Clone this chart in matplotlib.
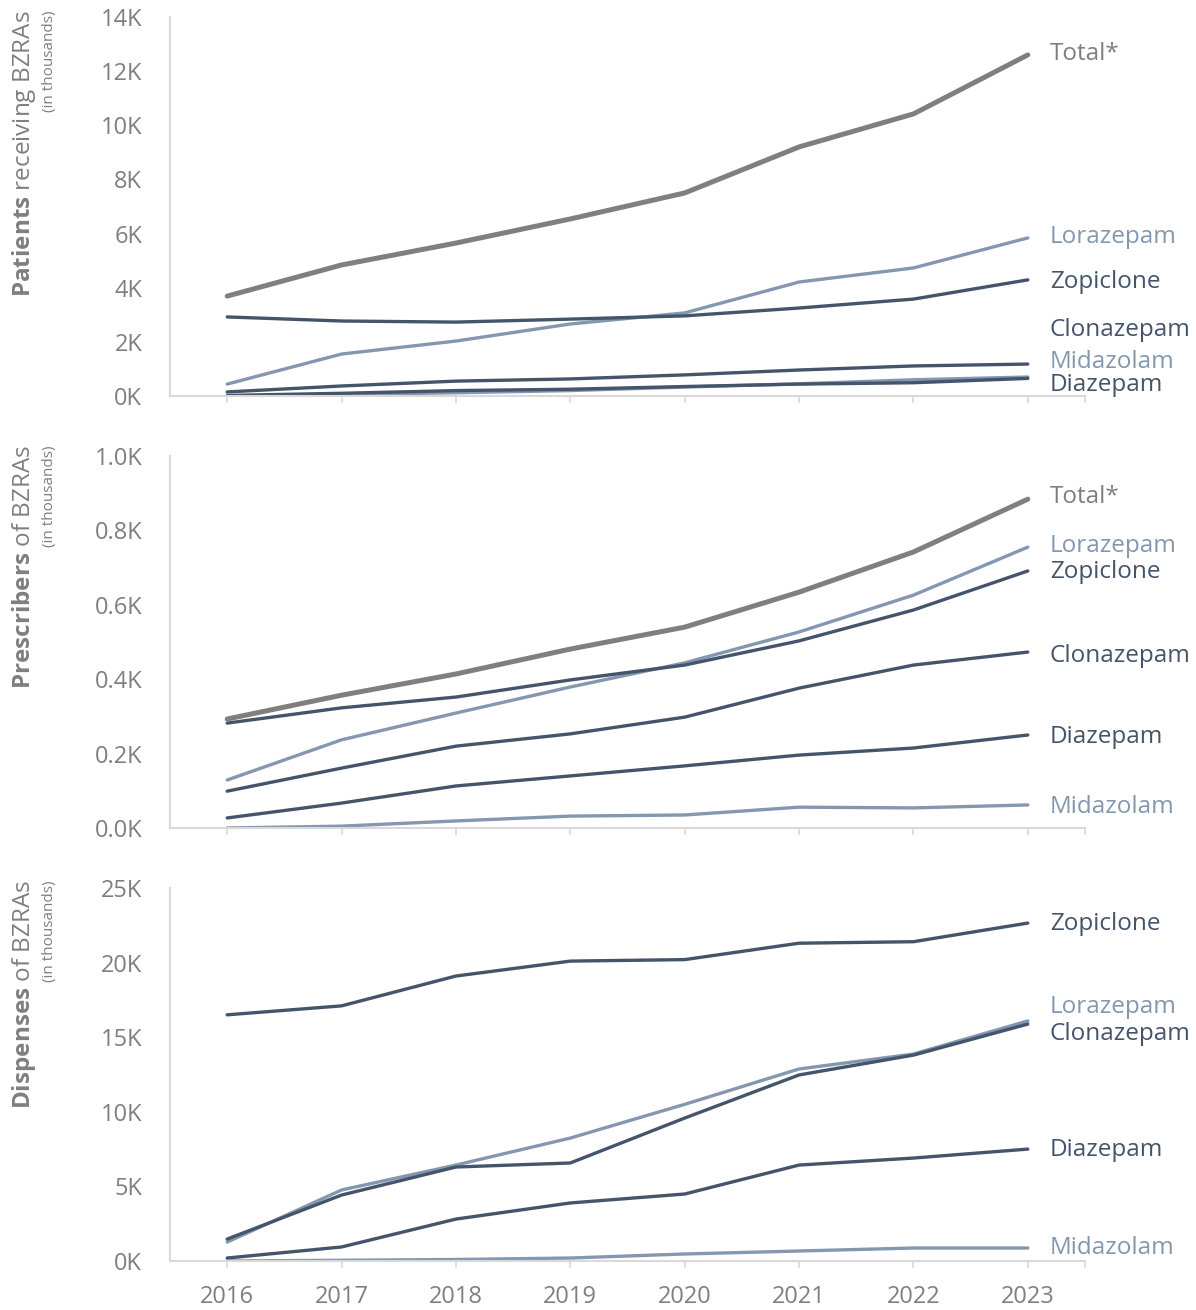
import numpy as np
import matplotlib.pyplot as plt
from matplotlib.ticker import FuncFormatter

plt.rcParams['font.family'] = ['Open Sans', 'DejaVu Sans']
plt.rcParams['mathtext.fontset'] = 'custom'
plt.rcParams['mathtext.bf'] = 'Open Sans:bold'
plt.rcParams['mathtext.rm'] = 'Open Sans'

years = [2016, 2017, 2018, 2019, 2020, 2021, 2022, 2023]

# Patients receiving BZRAs (thousands)
pat_total = [3.69, 4.84, 5.65, 6.54, 7.50, 9.20, 10.42, 12.60]
pat_lorazepam = [0.44, 1.55, 2.03, 2.66, 3.07, 4.21, 4.73, 5.84]
pat_zopiclone = [2.92, 2.77, 2.73, 2.84, 2.96, 3.25, 3.58, 4.29]
pat_clonazepam = [0.15, 0.37, 0.55, 0.63, 0.78, 0.96, 1.11, 1.18]
pat_midazolam = [0.00, 0.05, 0.12, 0.20, 0.33, 0.45, 0.60, 0.70]
pat_diazepam = [0.02, 0.10, 0.20, 0.25, 0.35, 0.44, 0.49, 0.65]

# Prescribers of BZRAs (thousands)
pre_total = [0.293, 0.357, 0.414, 0.481, 0.540, 0.634, 0.742, 0.884]
pre_lorazepam = [0.129, 0.237, 0.309, 0.379, 0.444, 0.527, 0.626, 0.755]
pre_zopiclone = [0.282, 0.323, 0.352, 0.398, 0.438, 0.503, 0.586, 0.691]
pre_clonazepam = [0.099, 0.161, 0.220, 0.253, 0.298, 0.376, 0.438, 0.473]
pre_diazepam = [0.027, 0.067, 0.113, 0.140, 0.167, 0.196, 0.215, 0.250]
pre_midazolam = [0.000, 0.005, 0.019, 0.032, 0.035, 0.056, 0.054, 0.062]

# Dispenses of BZRAs (thousands)
dis_zopiclone = [16.5, 17.1, 19.1, 20.1, 20.2, 21.3, 21.4, 22.65]
dis_lorazepam = [1.27, 4.76, 6.43, 8.24, 10.5, 12.87, 13.87, 16.09]
dis_clonazepam = [1.47, 4.42, 6.30, 6.57, 9.58, 12.47, 13.80, 15.88]
dis_diazepam = [0.20, 0.94, 2.81, 3.89, 4.49, 6.43, 6.90, 7.50]
dis_midazolam = [0.00, 0.05, 0.10, 0.20, 0.47, 0.67, 0.87, 0.87]

DARK = '#44546a'
LIGHT = '#8497b0'
TOTAL = '#7f7f7f'
AXIS = '#d9d9d9'
TEXT = '#7f7f7f'

W, H = 1196, 1310
fig = plt.figure(figsize=(W / 100, H / 100), dpi=100)


def px_axes(top, bottom):
    return fig.add_axes([170 / W, (H - bottom) / H, 915 / W, (bottom - top) / H])


panels = [
    dict(top=17, bottom=396, ymax=14, fmt='{:.0f}K', step=2,
         bold='Patients', rest=' receiving BZRAs', label_top=10,
         series=[('Clonazepam', pat_clonazepam, DARK, 34),
                 ('Midazolam', pat_midazolam, LIGHT, 15),
                 ('Diazepam', pat_diazepam, DARK, -7),
                 ('Lorazepam', pat_lorazepam, LIGHT, 1),
                 ('Zopiclone', pat_zopiclone, DARK, -2),
                 ('Total*', pat_total, TOTAL, 1)]),
    dict(top=456, bottom=828, ymax=1.0, fmt='{:.1f}K', step=0.2,
         bold='Prescribers', rest=' of BZRAs', label_top=445,
         series=[('Midazolam', pre_midazolam, LIGHT, -2),
                 ('Diazepam', pre_diazepam, DARK, -2),
                 ('Clonazepam', pre_clonazepam, DARK, -4),
                 ('Lorazepam', pre_lorazepam, LIGHT, 1),
                 ('Zopiclone', pre_zopiclone, DARK, -1),
                 ('Total*', pre_total, TOTAL, 2)]),
    dict(top=888, bottom=1261, ymax=25, fmt='{:.0f}K', step=5,
         bold='Dispenses', rest=' of BZRAs', label_top=880,
         series=[('Midazolam', dis_midazolam, LIGHT, 0),
                 ('Diazepam', dis_diazepam, DARK, -1),
                 ('Lorazepam', dis_lorazepam, LIGHT, 14),
                 ('Clonazepam', dis_clonazepam, DARK, -10),
                 ('Zopiclone', dis_zopiclone, DARK, -1)]),
]

for i, p in enumerate(panels):
    ax = px_axes(p['top'], p['bottom'])
    for name, vals, col, dy in p['series']:
        lw = 3.6 if name == 'Total*' else 2.4
        ax.plot(years, vals, color=col, lw=lw, solid_capstyle='round',
                solid_joinstyle='round')
        ax.annotate(name, xy=(years[-1], vals[-1]), xytext=(22, dy),
                    textcoords='offset pixels', va='center', ha='left',
                    fontsize=17.5, color=col, annotation_clip=False)

    ax.set_xlim(2015.5, 2023.5)
    ax.set_ylim(0, p['ymax'])
    ax.set_yticks(np.arange(0, p['ymax'] + p['step'] / 2, p['step']))
    ax.yaxis.set_major_formatter(FuncFormatter(lambda v, pos, f=p['fmt']: f.format(v)))
    ax.set_xticks(years)
    ax.set_xticks([2023.5], minor=True)
    ax.tick_params(axis='y', length=0, pad=20, labelsize=17, labelcolor=TEXT)
    ax.tick_params(axis='x', which='both', length=5, width=1.2, color=AXIS,
                   pad=12, labelsize=17, labelcolor=TEXT)
    if i < 2:
        ax.tick_params(axis='x', labelbottom=False)
    for s in ['top', 'right']:
        ax.spines[s].set_visible(False)
    for s in ['left', 'bottom']:
        ax.spines[s].set_color(AXIS)
        ax.spines[s].set_linewidth(1.5)

    fig.text(24 / W, 1 - p['label_top'] / H,
             r'$\mathbf{' + p['bold'] + '}$' + p['rest'],
             rotation=90, ha='center', va='top', fontsize=17.5, color=TEXT)
    fig.text(49 / W, 1 - p['label_top'] / H, '(in thousands)',
             rotation=90, ha='center', va='top', fontsize=11, color=TEXT)

fig.savefig('out.png', dpi=100)
